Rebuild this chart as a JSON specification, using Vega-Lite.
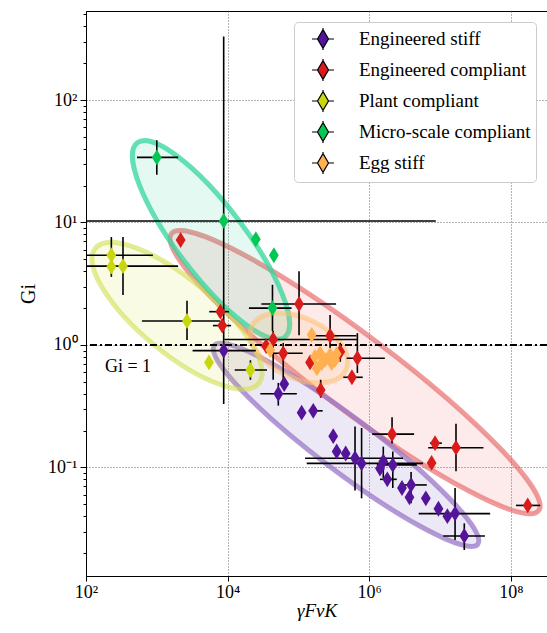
{
  "$schema": "https://vega.github.io/schema/vega-lite/v6.json",
  "width": 461,
  "height": 565,
  "autosize": "none",
  "padding": {"left": 86, "top": 11, "right": 0, "bottom": 57},
  "config": {
    "font": "Liberation Serif",
    "view": {"stroke": "black", "strokeWidth": 1},
    "axis": {
      "labelFont": "Liberation Serif",
      "titleFont": "Liberation Serif",
      "labelColor": "black",
      "titleColor": "black",
      "domainColor": "black",
      "tickColor": "black",
      "labelFontSize": 17,
      "titleFontSize": 19,
      "titleFontWeight": "normal",
      "gridColor": "#444444",
      "gridDash": [1, 2],
      "gridWidth": 0.8
    }
  },
  "datasets": {
    "ell": [
      {"g": "Micro-scale compliant", "x": 5830, "y": 7.2},
      {"g": "Plant compliant", "x": 1930, "y": 1.73},
      {"g": "Engineered stiff", "x": 470000, "y": 0.153},
      {"g": "Engineered compliant", "x": 630000, "y": 0.6},
      {"g": "Egg stiff", "x": 102000, "y": 0.945}
    ],
    "pts": [
      {"g": "Engineered stiff", "x": 8800, "y": 0.9, "xlo": 3200, "xhi": 25000, "ylo": 0.33, "yhi": 1.1},
      {"g": "Engineered stiff", "x": 63000, "y": 0.48},
      {"g": "Engineered stiff", "x": 52000, "y": 0.4, "xlo": 29000, "xhi": 95000, "ylo": 0.32, "yhi": 0.49},
      {"g": "Engineered stiff", "x": 111000, "y": 0.28},
      {"g": "Engineered stiff", "x": 162000, "y": 0.29, "xlo": 140000, "xhi": 220000},
      {"g": "Engineered stiff", "x": 310000, "y": 0.18},
      {"g": "Engineered stiff", "x": 347000, "y": 0.135},
      {"g": "Engineered stiff", "x": 465000, "y": 0.13},
      {"g": "Engineered stiff", "x": 630000, "y": 0.119, "xlo": 124000, "xhi": 3000000, "ylo": 0.065, "yhi": 0.216},
      {"g": "Engineered stiff", "x": 780000, "y": 0.108, "xlo": 131000, "xhi": 5750000, "ylo": 0.056, "yhi": 0.21},
      {"g": "Engineered stiff", "x": 1420000, "y": 0.098},
      {"g": "Engineered stiff", "x": 1580000, "y": 0.112, "ylo": 0.082, "yhi": 0.148},
      {"g": "Engineered stiff", "x": 2150000, "y": 0.105, "xlo": 1280000, "xhi": 4700000, "ylo": 0.068, "yhi": 0.135},
      {"g": "Engineered stiff", "x": 1800000, "y": 0.08, "xlo": 1420000, "xhi": 2450000},
      {"g": "Engineered stiff", "x": 2900000, "y": 0.068},
      {"g": "Engineered stiff", "x": 3900000, "y": 0.072, "xlo": 3000000, "xhi": 6500000, "ylo": 0.051, "yhi": 0.092},
      {"g": "Engineered stiff", "x": 3700000, "y": 0.057},
      {"g": "Engineered stiff", "x": 6300000, "y": 0.056},
      {"g": "Engineered stiff", "x": 9500000, "y": 0.046},
      {"g": "Engineered stiff", "x": 12700000, "y": 0.04},
      {"g": "Engineered stiff", "x": 16300000, "y": 0.042, "xlo": 5000000, "xhi": 51000000, "ylo": 0.0256, "yhi": 0.068},
      {"g": "Engineered stiff", "x": 22000000, "y": 0.0276, "xlo": 11100000, "xhi": 43000000, "ylo": 0.0212, "yhi": 0.035},
      {"g": "Engineered compliant", "x": 2170, "y": 7.2},
      {"g": "Engineered compliant", "x": 7900, "y": 1.87, "xlo": 5500, "xhi": 10500},
      {"g": "Engineered compliant", "x": 8400, "y": 1.44, "xlo": 6200, "xhi": 11200},
      {"g": "Engineered compliant", "x": 102000, "y": 2.16, "xlo": 30000, "xhi": 340000, "ylo": 1.2, "yhi": 4.0},
      {"g": "Engineered compliant", "x": 44000, "y": 1.11, "xlo": 9000, "xhi": 670000, "ylo": 0.52, "yhi": 1.3},
      {"g": "Engineered compliant", "x": 35000, "y": 0.98},
      {"g": "Engineered compliant", "x": 61000, "y": 0.855, "xlo": 40000, "xhi": 115000, "ylo": 0.52, "yhi": 1.04},
      {"g": "Engineered compliant", "x": 280000, "y": 1.19, "xlo": 145000, "xhi": 660000, "ylo": 0.94, "yhi": 1.76},
      {"g": "Engineered compliant", "x": 390000, "y": 0.88, "ylo": 0.73, "yhi": 1.04},
      {"g": "Engineered compliant", "x": 680000, "y": 0.78, "xlo": 480000, "xhi": 1660000, "ylo": 0.59, "yhi": 1.25},
      {"g": "Engineered compliant", "x": 570000, "y": 0.545, "xlo": 430000, "xhi": 810000},
      {"g": "Engineered compliant", "x": 206000, "y": 0.43, "ylo": 0.37, "yhi": 0.52},
      {"g": "Engineered compliant", "x": 146000, "y": 0.72},
      {"g": "Engineered compliant", "x": 2100000, "y": 0.187, "xlo": 1100000, "xhi": 4300000, "ylo": 0.157, "yhi": 0.257},
      {"g": "Engineered compliant", "x": 8500000, "y": 0.158, "xlo": 7200000, "xhi": 10600000},
      {"g": "Engineered compliant", "x": 16800000, "y": 0.145, "xlo": 6800000, "xhi": 41000000, "ylo": 0.093, "yhi": 0.227},
      {"g": "Engineered compliant", "x": 7600000, "y": 0.109},
      {"g": "Engineered compliant", "x": 173000000, "y": 0.049, "xlo": 118000000, "xhi": 260000000},
      {"g": "Plant compliant", "x": 228, "y": 5.4, "xlo": 60, "xhi": 880, "ylo": 3.6, "yhi": 7.6},
      {"g": "Plant compliant", "x": 228, "y": 4.36},
      {"g": "Plant compliant", "x": 333, "y": 4.4, "xlo": 60, "xhi": 2000, "ylo": 2.56, "yhi": 7.6},
      {"g": "Plant compliant", "x": 2670, "y": 1.57, "xlo": 617, "xhi": 7800, "ylo": 1.1, "yhi": 2.3},
      {"g": "Plant compliant", "x": 5460, "y": 0.72},
      {"g": "Plant compliant", "x": 21000, "y": 0.625, "xlo": 12600, "xhi": 36000, "ylo": 0.52, "yhi": 0.75},
      {"g": "Micro-scale compliant", "x": 1000, "y": 34, "xlo": 525, "xhi": 2000, "ylo": 24.5, "yhi": 47},
      {"g": "Micro-scale compliant", "x": 8800, "y": 10.3, "xlo": 60, "xhi": 8700000, "ylo": 1.1, "yhi": 330},
      {"g": "Micro-scale compliant", "x": 25000, "y": 7.3},
      {"g": "Micro-scale compliant", "x": 45000, "y": 5.4},
      {"g": "Micro-scale compliant", "x": 43000, "y": 2.0, "xlo": 20000, "xhi": 80000, "ylo": 1.3, "yhi": 3.1},
      {"g": "Egg stiff", "x": 154000, "y": 1.21},
      {"g": "Egg stiff", "x": 40000, "y": 0.91},
      {"g": "Egg stiff", "x": 171000, "y": 0.8},
      {"g": "Egg stiff", "x": 202000, "y": 0.855},
      {"g": "Egg stiff", "x": 238000, "y": 0.755},
      {"g": "Egg stiff", "x": 280000, "y": 0.83},
      {"g": "Egg stiff", "x": 329000, "y": 0.755},
      {"g": "Egg stiff", "x": 182000, "y": 0.645},
      {"g": "Egg stiff", "x": 214000, "y": 0.71},
      {"g": "Egg stiff", "x": 295000, "y": 0.71},
      {"g": "Egg stiff", "x": 347000, "y": 0.845}
    ]
  },
  "layer": [
    {
      "data": {"name": "ell"},
      "transform": [{"filter": "datum.g === 'Engineered compliant'"}],
      "mark": {"type": "point", "shape": "M -1 0 C -1 -0.0895 -0.552 -0.162 0 -0.162 C 0.552 -0.162 1 -0.0895 1 0 C 1 0.0895 0.552 0.162 0 0.162 C -0.552 0.162 -1 0.0895 -1 0 Z", "size": 211600, "angle": 37, "filled": true, "opacity": 1, "fill": "#ee3333", "fillOpacity": 0.1, "stroke": "#e86666", "strokeOpacity": 0.65, "strokeWidth": 5},
      "encoding": {"x": {"field": "x", "type": "quantitative"}, "y": {"field": "y", "type": "quantitative"}}
    },
    {
      "data": {"name": "ell"},
      "transform": [{"filter": "datum.g === 'Engineered stiff'"}],
      "mark": {"type": "point", "shape": "M -1 0 C -1 -0.0906 -0.552 -0.164 0 -0.164 C 0.552 -0.164 1 -0.0906 1 0 C 1 0.0906 0.552 0.164 0 0.164 C -0.552 0.164 -1 0.0906 -1 0 Z", "size": 108900, "angle": 37, "filled": true, "opacity": 1, "fill": "#6a3fb0", "fillOpacity": 0.12, "stroke": "#9a78c8", "strokeOpacity": 0.75, "strokeWidth": 5},
      "encoding": {"x": {"field": "x", "type": "quantitative"}, "y": {"field": "y", "type": "quantitative"}}
    },
    {
      "data": {"name": "ell"},
      "transform": [{"filter": "datum.g === 'Plant compliant'"}],
      "mark": {"type": "point", "shape": "M -1 0 C -1 -0.193 -0.552 -0.349 0 -0.349 C 0.552 -0.349 1 -0.193 1 0 C 1 0.193 0.552 0.349 0 0.349 C -0.552 0.349 -1 0.193 -1 0 Z", "size": 44944, "angle": 39.6, "filled": true, "opacity": 1, "fill": "#d4e020", "fillOpacity": 0.12, "stroke": "#d0df50", "strokeOpacity": 0.6, "strokeWidth": 5},
      "encoding": {"x": {"field": "x", "type": "quantitative"}, "y": {"field": "y", "type": "quantitative"}}
    },
    {
      "data": {"name": "ell"},
      "transform": [{"filter": "datum.g === 'Micro-scale compliant'"}],
      "mark": {"type": "point", "shape": "M -1 0 C -1 -0.154 -0.552 -0.279 0 -0.279 C 0.552 -0.279 1 -0.154 1 0 C 1 0.154 0.552 0.279 0 0.279 C -0.552 0.279 -1 0.154 -1 0 Z", "size": 59536, "angle": 52.8, "filled": true, "opacity": 1, "fill": "#20d090", "fillOpacity": 0.12, "stroke": "#33d69c", "strokeOpacity": 0.75, "strokeWidth": 5},
      "encoding": {"x": {"field": "x", "type": "quantitative"}, "y": {"field": "y", "type": "quantitative"}}
    },
    {
      "data": {"name": "ell"},
      "transform": [{"filter": "datum.g === 'Egg stiff'"}],
      "mark": {"type": "point", "shape": "M -1 0 C -1 -0.319 -0.552 -0.577 0 -0.577 C 0.552 -0.577 1 -0.319 1 0 C 1 0.319 0.552 0.577 0 0.577 C -0.552 0.577 -1 0.319 -1 0 Z", "size": 10816, "angle": 25, "filled": true, "opacity": 1, "fill": "#ffb050", "fillOpacity": 0.12, "stroke": "#ffc070", "strokeOpacity": 0.55, "strokeWidth": 5},
      "encoding": {"x": {"field": "x", "type": "quantitative"}, "y": {"field": "y", "type": "quantitative"}}
    },
    {
      "data": {"values": [{"v": 1}]},
      "mark": {"type": "rule", "color": "black", "strokeWidth": 2, "strokeDash": [7, 3, 2, 3]},
      "encoding": {"y": {"field": "v", "type": "quantitative"}}
    },
    {
      "data": {"name": "pts"},
      "transform": [{"filter": "isValid(datum.xlo)"}],
      "mark": {"type": "rule", "color": "black", "strokeWidth": 1.6, "clip": true},
      "encoding": {
        "x": {"field": "xlo", "type": "quantitative"},
        "x2": {"field": "xhi"},
        "y": {"field": "y", "type": "quantitative"}
      }
    },
    {
      "data": {"name": "pts"},
      "transform": [{"filter": "isValid(datum.ylo)"}],
      "mark": {"type": "rule", "color": "black", "strokeWidth": 1.6, "clip": true},
      "encoding": {
        "x": {"field": "x", "type": "quantitative"},
        "y": {"field": "ylo", "type": "quantitative"},
        "y2": {"field": "yhi"}
      }
    },
    {
      "data": {"name": "pts"},
      "mark": {"type": "point", "shape": "M 0 -1 L 0.62 0 L 0 1 L -0.62 0 Z", "size": 250, "filled": true, "opacity": 1, "strokeWidth": 0},
      "encoding": {
        "x": {
          "field": "x",
          "type": "quantitative",
          "scale": {"type": "log", "domain": [100, 324000000], "nice": false},
          "axis": {
            "title": "γFvK",
            "titleFontStyle": "italic",
            "titleFontSize": 19,
            "titlePadding": 0,
            "values": [100, 10000, 1000000, 100000000],
            "labelExpr": "datum.value === 100 ? '10²' : datum.value === 10000 ? '10⁴' : datum.value === 1000000 ? '10⁶' : '10⁸'",
            "labelFontSize": 18,
            "labelOverlap": false,
            "labelFlush": false,
            "labelPadding": 2,
            "tickSize": 5,
            "grid": true
          }
        },
        "y": {
          "field": "y",
          "type": "quantitative",
          "scale": {"type": "log", "domain": [0.013, 533], "nice": false},
          "axis": {
            "title": "Gi",
            "titleFontSize": 20,
            "titlePadding": 9,
            "values": [0.02, 0.03, 0.04, 0.05, 0.06, 0.07, 0.08, 0.09, 0.1, 0.2, 0.3, 0.4, 0.5, 0.6, 0.7, 0.8, 0.9, 1, 2, 3, 4, 5, 6, 7, 8, 9, 10, 20, 30, 40, 50, 60, 70, 80, 90, 100, 200, 300, 400, 500],
            "labelExpr": "datum.value === 100 ? '10²' : datum.value === 10 ? '10¹' : datum.value === 1 ? '10⁰' : datum.value === 0.1 ? '10⁻¹' : ''",
            "labelFontSize": 18,
            "labelOverlap": false,
            "labelFlush": false,
            "labelPadding": 3,
            "grid": true,
            "gridOpacity": {"condition": {"test": "datum.value === 0.1 || datum.value === 1 || datum.value === 10 || datum.value === 100", "value": 1}, "value": 0},
            "tickSize": {"condition": {"test": "datum.value === 0.1 || datum.value === 1 || datum.value === 10 || datum.value === 100", "value": 6}, "value": 3}
          }
        },
        "color": {
          "field": "g",
          "type": "nominal",
          "scale": {
            "domain": ["Engineered stiff", "Engineered compliant", "Plant compliant", "Micro-scale compliant", "Egg stiff"],
            "range": ["#54149a", "#d81b1b", "#c8d70e", "#00c853", "#ffb050"]
          },
          "legend": {
            "title": null,
            "orient": "none",
            "legendX": 208,
            "legendY": 11,
            "labelFont": "Liberation Serif",
            "labelFontSize": 19,
            "labelColor": "black",
            "labelLimit": 300,
            "symbolType": "M -1 0 L -0.5 0 M 0.5 0 L 1 0 M 0 -1 L 0 -0.85 M 0 0.85 L 0 1 M 0 -0.85 L 0.5 0 L 0 0.85 L -0.5 0 Z",
            "symbolSize": 484,
            "symbolStrokeColor": "black",
            "symbolStrokeWidth": 1.2,
            "symbolOpacity": 1,
            "fillColor": "white",
            "strokeColor": "#cccccc",
            "cornerRadius": 4,
            "padding": 5,
            "rowPadding": 3,
            "symbolOffset": 12,
            "labelOffset": 24,
            "encode": {"symbols": {"update": {"stroke": {"value": "black"}, "strokeWidth": {"value": 1.2}}}}
          }
        }
      }
    },
    {
      "data": {"values": [{"x": 392, "y": 0.66, "t": "Gi = 1"}]},
      "mark": {"type": "text", "font": "Liberation Serif", "fontSize": 18, "color": "black", "align": "center", "baseline": "middle"},
      "encoding": {
        "x": {"field": "x", "type": "quantitative"},
        "y": {"field": "y", "type": "quantitative"},
        "text": {"field": "t"}
      }
    }
  ]
}
